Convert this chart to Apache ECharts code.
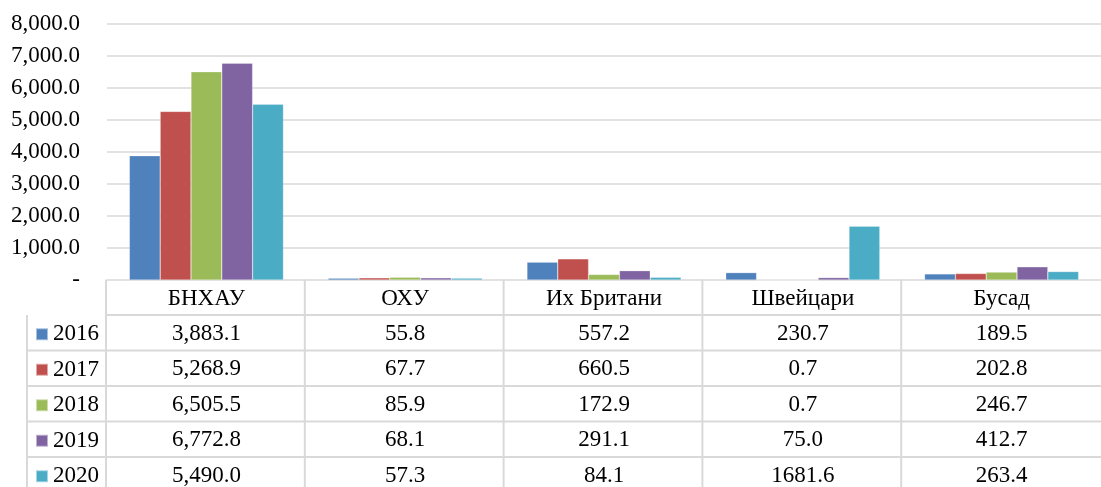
<!DOCTYPE html>
<html>
<head>
<meta charset="utf-8">
<script src="https://cdn.jsdelivr.net/npm/echarts@6/dist/echarts.min.js"></script>
<style>
  html, body { margin: 0; padding: 0; background: #fff; }
  #main { width: 1101px; height: 487px; }
</style>
</head>
<body>
<div id="main"></div>
<script>
// countries (table header)
var categories = ['БНХАУ', 'ОХУ', 'Их Британи', 'Швейцари', 'Бусад'];
var years = ['2016', '2017', '2018', '2019', '2020'];
var v2016 = [3883.1, 55.8, 557.2, 230.7, 189.5];
var v2017 = [5268.9, 67.7, 660.5, 0.7, 202.8];
var v2018 = [6505.5, 85.9, 172.9, 0.7, 246.7];
var v2019 = [6772.8, 68.1, 291.1, 75.0, 412.7];
var v2020 = [5490.0, 57.3, 84.1, 1681.6, 263.4];
var yTicks = [0, 1000, 2000, 3000, 4000, 5000, 6000, 7000, 8000];
// cell printed without thousands separator in the source
var noGroup = ['2020|Швейцари'];

var colors = ['#4F81BD', '#C0504D', '#9BBB59', '#8064A2', '#4BACC6'];
var font = "'Liberation Serif', 'Times New Roman', serif";
var fs = 23;
var lineCol = '#d9d9d9';

var allValues = [v2016, v2017, v2018, v2019, v2020];

function fmt(v, group) {
  var s = v.toFixed(1);
  if (!group) return s;
  var p = s.split('.');
  return p[0].replace(/\B(?=(\d{3})+(?!\d))/g, ',') + '.' + p[1];
}

var myChart = echarts.init(document.getElementById('main'));

var gridLeft = 107, gridTop = 24, gridW = 1004, axisY = 280;
var rowTop = 279.5, rowH = 35.5;

// one legend per table row so each key sits in its own row
var legends = years.map(function (y, k) {
  return {
    data: [y],
    left: 35,
    top: rowTop + (k + 1.5) * rowH - 10,
    padding: 0,
    icon: 'rect',
    itemWidth: 12,
    itemHeight: 12,
    selectedMode: false,
    textStyle: { fontFamily: font, fontSize: fs, color: '#000', lineHeight: 22 }
  };
});

var option = {
  animation: false,
  color: colors,
  textStyle: { fontFamily: font },
  grid: { left: gridLeft, top: gridTop, width: gridW, height: axisY - gridTop },
  legend: legends,
  xAxis: {
    type: 'category',
    data: categories,
    axisLine: { show: false },
    axisTick: { show: false },
    axisLabel: { margin: 7, fontFamily: font, fontSize: fs, color: '#000' }
  },
  yAxis: {
    type: 'value',
    min: yTicks[0],
    max: yTicks[yTicks.length - 1],
    interval: 1000,
    axisLine: { show: false },
    axisTick: { show: false },
    splitLine: { lineStyle: { color: lineCol, width: 1.5 } },
    axisLabel: {
      margin: 27,
      padding: [5, 0, 0, 0],
      fontFamily: font,
      fontSize: fs,
      color: '#000',
      formatter: function (v) { return v === 0 ? '-' : fmt(v, true); }
    }
  },
  series: years.map(function (y, i) {
    return {
      name: y,
      type: 'bar',
      data: allValues[i],
      barGap: '0%',
      barCategoryGap: '22.5%',
      itemStyle: { color: colors[i], borderColor: 'rgba(255,255,255,0.5)', borderWidth: 0.5 }
    };
  })
};

myChart.setOption(option);

// data table under the plot
var colW = gridW / categories.length;
var right = 1101;
var g = [];
// horizontal lines
for (var r = 1; r <= years.length + 1; r++) {
  var y = rowTop + r * rowH;
  var x0 = r <= 1 ? gridLeft : 27;
  g.push({ type: 'line', shape: { x1: x0, y1: y, x2: right, y2: y }, style: { stroke: lineCol, lineWidth: 2 } });
}
// vertical lines
g.push({ type: 'line', shape: { x1: 27, y1: rowTop + rowH, x2: 27, y2: 487 }, style: { stroke: lineCol, lineWidth: 2 } });
for (var c = 0; c < categories.length; c++) {
  var cx = myChart.convertToPixel({ xAxisIndex: 0 }, categories[c]);
  var bx = cx - colW / 2;
  g.push({ type: 'line', shape: { x1: bx, y1: rowTop, x2: bx, y2: 487 }, style: { stroke: lineCol, lineWidth: 2 } });
  for (var k = 0; k < years.length; k++) {
    var grp = noGroup.indexOf(years[k] + '|' + categories[c]) < 0;
    g.push({
      type: 'text',
      x: cx,
      y: rowTop + (k + 1.5) * rowH + 1,
      style: {
        text: fmt(allValues[k][c], grp),
        fontFamily: font,
        fontSize: fs,
        fill: '#000',
        align: 'center',
        verticalAlign: 'middle'
      }
    });
  }
}
myChart.setOption({ graphic: g });
</script>
</body>
</html>
